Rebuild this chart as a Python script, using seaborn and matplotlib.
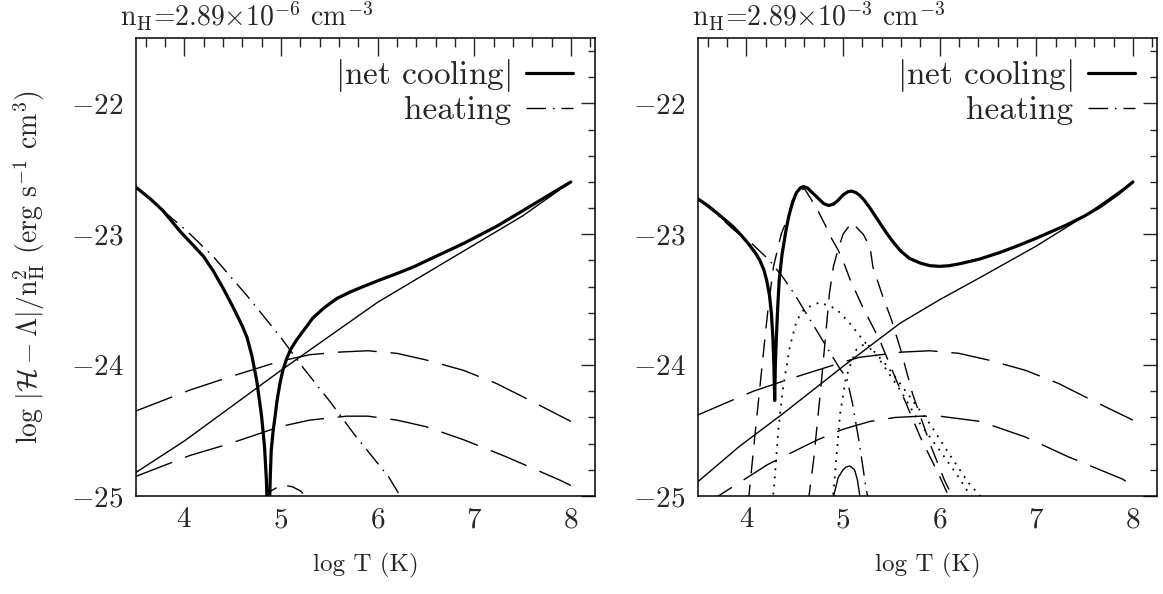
#!/usr/bin/env python3
# coding=utf-8
import matplotlib
matplotlib.use('Agg')
import matplotlib.pyplot as plt
import matplotlib.ticker as ticker
from matplotlib.lines import Line2D
import seaborn as sns

# ---- data (log T, log |H-L|/nH^2) ----
# left panel, nH = 2.89e-6
L_net_T = [3.5, 3.65, 3.78, 3.96, 4.1, 4.2, 4.3, 4.4, 4.5, 4.6, 4.65, 4.7, 4.75, 4.8, 4.83, 4.85, 4.862,
           4.878, 4.89, 4.9, 4.92, 4.94, 4.96, 4.99, 5.02, 5.06, 5.1, 5.16, 5.25, 5.33, 5.45, 5.58, 5.72,
           5.85, 6.02, 6.2, 6.37, 6.6, 6.89, 7.23, 7.57, 8.0]
L_net_v = [-22.64, -22.73, -22.82, -22.98, -23.09, -23.17, -23.28, -23.41, -23.55, -23.7, -23.79, -23.93,
           -24.12, -24.39, -24.62, -24.88, -25.2,
           -25.2, -24.85, -24.65, -24.5, -24.39, -24.27, -24.14, -24.04, -23.95, -23.88, -23.81, -23.72,
           -23.64, -23.56, -23.49, -23.44, -23.4, -23.35, -23.3, -23.25, -23.17, -23.07, -22.94, -22.79, -22.6]
L_heat_T = [3.5, 3.75, 4.02, 4.3, 4.65, 4.99, 5.23, 5.51, 5.75, 5.99, 6.12, 6.25]
L_heat_v = [-22.64, -22.8, -22.97, -23.17, -23.47, -23.78, -24.02, -24.28, -24.52, -24.74, -24.86, -25.02]
L_brem_T = [3.5, 4.0, 5.0, 6.0, 7.0, 7.5, 8.0]
L_brem_v = [-24.82, -24.58, -24.04, -23.52, -23.08, -22.86, -22.6]
L_up_T = [3.5, 4.06, 4.47, 4.99, 5.3, 5.61, 5.9, 6.2, 6.5, 6.89, 7.23, 7.58, 8.0]
L_up_v = [-24.35, -24.19, -24.09, -23.97, -23.92, -23.9, -23.89, -23.91, -23.96, -24.04, -24.14, -24.27, -24.43]
L_low_T = [3.5, 4.06, 4.47, 4.99, 5.3, 5.68, 5.9, 6.2, 6.5, 6.89, 7.33, 7.89, 8.0]
L_low_v = [-24.85, -24.69, -24.6, -24.47, -24.42, -24.39, -24.39, -24.42, -24.47, -24.57, -24.7, -24.88, -24.92]
L_bump_T = [4.82, 4.9, 4.97, 5.05, 5.12, 5.2, 5.3]
L_bump_v = [-25.03, -24.96, -24.93, -24.92, -24.93, -24.96, -25.03]

# right panel, nH = 2.89e-3
R_net_T = [3.5, 3.6, 3.7, 3.86, 3.95, 4.03, 4.1, 4.14, 4.18, 4.21, 4.24, 4.26, 4.275, 4.285, 4.293,
           4.3, 4.31, 4.325, 4.34, 4.37, 4.41, 4.44, 4.48, 4.52, 4.56, 4.59, 4.63, 4.68, 4.75, 4.8, 4.85,
           4.9, 4.95, 5.0, 5.05, 5.09, 5.13, 5.17, 5.22, 5.28, 5.36, 5.45, 5.52, 5.6, 5.69, 5.8, 5.9, 6.0,
           6.1, 6.21, 6.41, 6.62, 6.8, 7.0, 7.31, 7.5, 7.66, 7.85, 8.0]
R_net_v = [-22.73, -22.78, -22.84, -22.94, -23.01, -23.08, -23.15, -23.2, -23.27, -23.35, -23.47, -23.61,
           -23.8, -24.0, -24.27,
           -24.0, -23.8, -23.55, -23.35, -23.15, -22.97, -22.86, -22.75, -22.68, -22.645, -22.635, -22.645,
           -22.68, -22.73, -22.765, -22.78, -22.77, -22.74, -22.7, -22.675, -22.67, -22.68, -22.7, -22.74,
           -22.8, -22.89, -22.99, -23.06, -23.13, -23.185, -23.22, -23.24, -23.245, -23.24, -23.225, -23.19,
           -23.14, -23.09, -23.03, -22.93, -22.86, -22.79, -22.69, -22.6]
R_heat_T = [3.5, 3.7, 3.86, 4.07, 4.24, 4.38, 4.5, 4.64, 4.83, 4.97, 5.04, 5.1, 5.17, 5.24, 5.27]
R_heat_v = [-22.73, -22.85, -22.96, -23.08, -23.2, -23.33, -23.46, -23.63, -23.86, -24.03, -24.1, -24.3,
            -24.6, -24.95, -25.05]
R_brem_T = [3.5, 3.93, 4.38, 5.0, 5.59, 6.0, 6.42, 7.0, 7.5, 8.0]
R_brem_v = [-24.89, -24.62, -24.37, -24.01, -23.68, -23.5, -23.33, -23.09, -22.86, -22.6]
R_up_T = [3.5, 4.07, 4.47, 5.03, 5.17, 5.62, 5.9, 6.2, 6.5, 6.89, 7.23, 7.58, 8.0]
R_up_v = [-24.38, -24.2, -24.1, -23.97, -23.94, -23.9, -23.89, -23.91, -23.96, -24.04, -24.14, -24.27, -24.42]
R_low_T = [3.5, 3.71, 4.22, 4.6, 4.74, 5.0, 5.28, 5.54, 5.8, 6.0, 6.42, 6.89, 7.33, 7.89, 8.0]
R_low_v = [-25.08, -25.0, -24.76, -24.62, -24.57, -24.49, -24.43, -24.4, -24.39, -24.39, -24.43, -24.55,
           -24.7, -24.87, -24.92]
# short-dashed components
R_d1_T = [4.02, 4.08, 4.155, 4.22, 4.28, 4.36, 4.43, 4.52, 4.6, 4.66, 4.74, 4.81, 4.88, 4.95, 5.02, 5.07,
          5.2, 5.38, 5.6, 5.8, 6.0, 6.08, 6.12]
R_d1_v = [-25.05, -24.6, -24.06, -23.6, -23.25, -23.0, -22.87, -22.69, -22.65, -22.72, -22.82, -22.92,
          -23.03, -23.12, -23.24, -23.34, -23.55, -23.81, -24.2, -24.55, -24.85, -24.98, -25.05]
R_d2_T = [4.64, 4.7, 4.78, 4.86, 4.9, 4.94, 5.0, 5.09, 5.21, 5.28, 5.31, 5.4, 5.5, 5.6, 5.72, 5.9, 6.05,
          6.13, 6.16]
R_d2_v = [-25.05, -24.7, -24.1, -23.45, -23.25, -23.14, -23.0, -22.91, -23.0, -23.1, -23.25, -23.45,
          -23.65, -23.89, -24.22, -24.6, -24.88, -25.0, -25.05]
# dotted components
R_p1_T = [4.27, 4.29, 4.33, 4.38, 4.45, 4.52, 4.6, 4.76, 4.93, 5.07, 5.21, 5.38, 5.6, 5.8, 6.0, 6.2, 6.32, 6.34]
R_p1_v = [-25.05, -24.9, -24.5, -24.17, -23.86, -23.66, -23.57, -23.52, -23.57, -23.68, -23.81, -23.96,
          -24.2, -24.45, -24.65, -24.86, -25.0, -25.03]
R_p2_T = [4.89, 4.91, 4.97, 5.03, 5.07, 5.14, 5.24, 5.45, 5.7, 5.9, 6.1, 6.3, 6.42, 6.44]
R_p2_v = [-25.05, -24.9, -24.37, -24.1, -24.01, -23.88, -23.83, -24.0, -24.25, -24.45, -24.68, -24.9,
          -25.0, -25.03]
R_bump_T = [4.89, 4.91, 4.95, 5.0, 5.03, 5.07, 5.12, 5.15, 5.18]
R_bump_v = [-25.05, -24.98, -24.86, -24.8, -24.78, -24.77, -24.8, -24.88, -25.03]

titles = [r'n$_{\rm H}$=2.89$\times$10$^{-6}$ cm$^{-3}$',
          r'n$_{\rm H}$=2.89$\times$10$^{-3}$ cm$^{-3}$']

# ---- styles ----
THICK = dict(color='black', linewidth=2.3, linestyle='-')
THIN = dict(color='black', linewidth=1.0, linestyle='-')
LONGDASH = dict(color='black', linewidth=1.0, linestyle=(0, (28, 10)))
DASH = dict(color='black', linewidth=1.0, linestyle=(0, (13, 8)))
DOT = dict(color='black', linewidth=1.3, linestyle=(0, (1, 3.5)))
DASHDOT = dict(color='black', linewidth=1.0, linestyle=(0, (14, 5, 1.2, 5)))


def line(ax, x, y, st):
    sns.lineplot(x=x, y=y, ax=ax, errorbar=None, **st)


def style_axes(ax, ylabel=None):
    ax.set_xlim(3.5, 8.25)
    ax.set_ylim(-25, -21.5)
    ax.xaxis.set_major_locator(ticker.MultipleLocator(1))
    ax.xaxis.set_minor_locator(ticker.MultipleLocator(0.2))
    ax.yaxis.set_major_locator(ticker.MultipleLocator(1))
    ax.yaxis.set_minor_locator(ticker.MultipleLocator(0.2))
    ax.tick_params(which='both', direction='in', top=True, right=True, width=1, labelsize=21)
    ax.tick_params(axis='x', which='major', length=13, pad=8)
    ax.tick_params(axis='x', which='minor', length=6.5)
    ax.tick_params(axis='y', which='major', length=10, pad=9)
    ax.tick_params(axis='y', which='minor', length=5)
    for s in ax.spines.values():
        s.set_linewidth(1.1)
        s.set_color('black')
    ax.set_xlabel('log T (K)', fontsize=18, labelpad=14)
    if ylabel:
        ax.set_ylabel(ylabel, fontsize=20, labelpad=17)
    else:
        ax.set_ylabel('')
    handles = [Line2D([], [], **THICK), Line2D([], [], **DASHDOT)]
    ax.legend(handles, [r'$|$net cooling$|$', 'heating'], loc='upper right',
              bbox_to_anchor=(0.952, 0.958), borderaxespad=0, borderpad=0, frameon=False,
              markerfirst=False, handlelength=1.41, handletextpad=0.45, labelspacing=0.05, fontsize=24)


sns.set_style('white')
plt.rcParams['font.family'] = ['cmr10']
plt.rcParams['mathtext.fontset'] = 'cm'
plt.rcParams['axes.formatter.use_mathtext'] = True
plt.rcParams['axes.unicode_minus'] = True

fig = plt.figure(figsize=(11.63, 5.94), dpi=100)
axL = fig.add_axes([0.1169, 0.165, 0.3947, 0.771])
axR = fig.add_axes([0.6002, 0.165, 0.3947, 0.771])

# left
line(axL, L_brem_T, L_brem_v, THIN)
line(axL, L_up_T, L_up_v, LONGDASH)
line(axL, L_low_T, L_low_v, LONGDASH)
line(axL, L_bump_T, L_bump_v, DASH)
line(axL, L_heat_T, L_heat_v, DASHDOT)
line(axL, L_net_T, L_net_v, THICK)

# right
line(axR, R_brem_T, R_brem_v, THIN)
line(axR, R_up_T, R_up_v, LONGDASH)
line(axR, R_low_T, R_low_v, LONGDASH)
line(axR, R_d1_T, R_d1_v, DASH)
line(axR, R_d2_T, R_d2_v, DASH)
line(axR, R_p1_T, R_p1_v, DOT)
line(axR, R_p2_T, R_p2_v, DOT)
line(axR, R_bump_T, R_bump_v, THIN)
line(axR, R_heat_T, R_heat_v, DASHDOT)
line(axR, R_net_T, R_net_v, THICK)

style_axes(axL, r'log $|\mathcal{H}-\Lambda|/$n$_{\rm H}^{2}$ (erg s$^{-1}$ cm$^{3}$)')
style_axes(axR)

fig.text(120 / 1163, 1 - 16 / 594, titles[0], fontsize=20, ha='left', va='center')
fig.text(692 / 1163, 1 - 16 / 594, titles[1], fontsize=20, ha='left', va='center')

fig.savefig('out.png', dpi=100)
